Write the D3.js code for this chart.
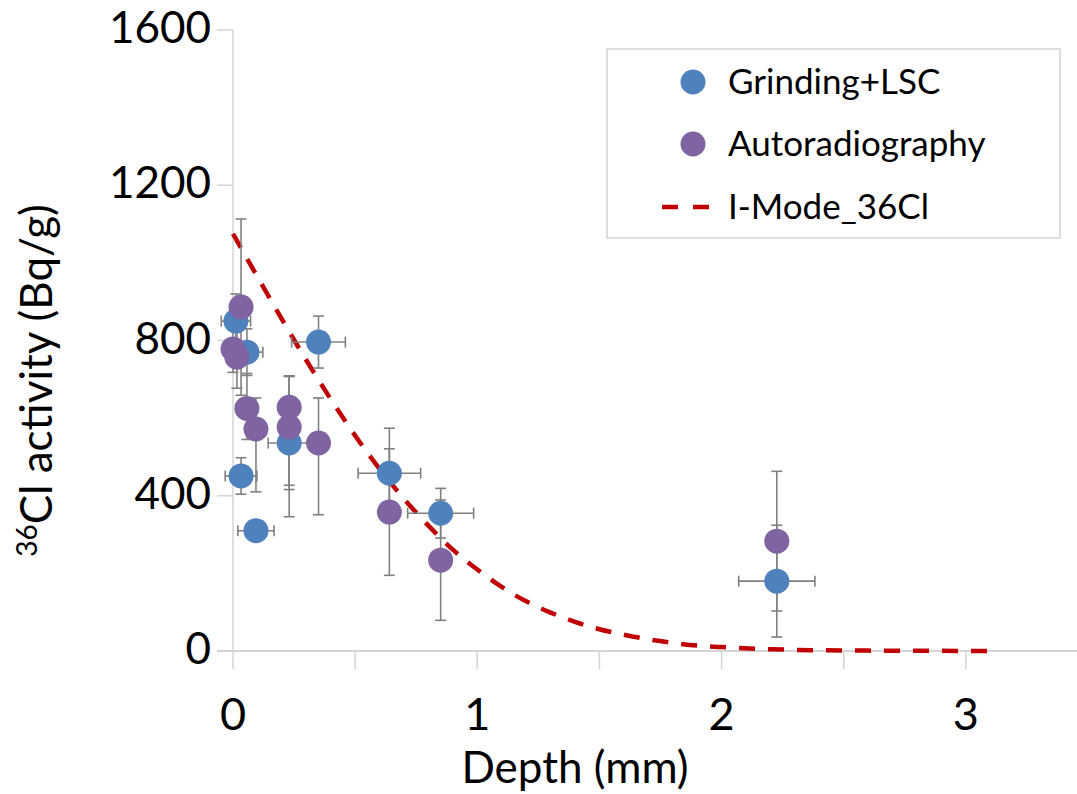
<!DOCTYPE html>
<html>
<head>
<meta charset="utf-8">
<script src="https://cdn.jsdelivr.net/npm/d3@7"></script>
<style>
  html, body { margin: 0; padding: 0; background: #fff; }
  svg { display: block; font-family: "Lato", "Open Sans", sans-serif; }
</style>
</head>
<body>
<svg id="chart" width="1077" height="794"></svg>
<script>
// ---- Data ----
const xTicks = [0, 1, 2, 3];
const xMinorTicks = [0, 0.5, 1, 1.5, 2, 2.5, 3];
const yTicks = [0, 400, 800, 1200, 1600];

// Grinding+LSC
const lscDepth   = [0.012, 0.057, 0.35, 0.033, 0.094, 0.23, 0.64, 0.85, 2.226];
const lscAct     = [850, 770, 796, 451, 310, 536, 458, 355, 180];
const lscErrPlus = [70, 60, 67, 47, 20, 173, 116, 64, 144];
const lscErrMinus= [70, 60, 67, 47, 20, 190, 116, 64, 144];
const lscDepthErr= [0.06, 0.065, 0.11, 0.065, 0.074, 0.086, 0.128, 0.135, 0.156];

// Autoradiography
const autoDepth   = [0.033, 0.0, 0.016, 0.057, 0.094, 0.23, 0.23, 0.35, 0.64, 0.85, 2.226];
const autoAct     = [886, 778, 757, 625, 572, 628, 577, 536, 358, 234, 283];
const autoErrPlus = [227, 60, 80, 90, 80, 80, 130, 116, 163, 155, 180];
const autoErrMinus= [227, 60, 80, 80, 162, 212, 150, 185, 163, 155, 180];

// I-Mode_36Cl model curve
const modelDepth = [0, 0.1, 0.2, 0.3, 0.4, 0.5, 0.6, 0.7, 0.8, 0.9, 1.0, 1.1, 1.2, 1.3, 1.4, 1.5, 1.6, 1.7, 1.8, 1.9, 2.0, 2.2, 2.4, 2.6, 2.8, 3.0, 3.1];
const modelAct   = [1075, 964, 855, 749, 649, 555, 469, 392, 323, 261, 210, 165, 128, 99, 75, 56, 42, 30, 21, 14, 10, 4.5, 2, 1, 0.5, 0.2, 0];

const legendLabels = ["Grinding+LSC", "Autoradiography", "I-Mode_36Cl"];

// ---- Styles ----
const BLUE = "#4f81bd", PURPLE = "#8064a2", RED = "#c00000", ERR = "#808080", AXIS = "#d4d4d4";
const R = 12.5, CAP = 5.5;

const svg = d3.select("#chart");
const x = d3.scaleLinear().domain([0, 3.5]).range([233, 233 + 3.5 * 244.3]);
const y = d3.scaleLinear().domain([0, 1600]).range([651, 30]);

// ---- Axes ----
const gx = svg.append("g").attr("transform", `translate(0,${y(0)})`);
gx.append("line").attr("x1", 217).attr("x2", 1077).attr("y1", 0).attr("y2", 0)
  .attr("stroke", AXIS).attr("stroke-width", 2);
gx.selectAll("line.tick").data(xMinorTicks).join("line").attr("class", "tick")
  .attr("x1", d => x(d)).attr("x2", d => x(d)).attr("y1", 0).attr("y2", 18)
  .attr("stroke", AXIS).attr("stroke-width", 1.5);
gx.selectAll("text").data(xTicks).join("text")
  .attr("x", d => x(d)).attr("y", 79)
  .attr("text-anchor", "middle").attr("font-size", 45).attr("fill", "#000")
  .text(d => d3.format("d")(d));

const gy = svg.append("g").attr("transform", `translate(${x(0)},0)`);
gy.append("line").attr("x1", 0).attr("x2", 0).attr("y1", y(1600)).attr("y2", y(0))
  .attr("stroke", AXIS).attr("stroke-width", 1.5);
gy.selectAll("line.tick").data(yTicks).join("line").attr("class", "tick")
  .attr("x1", -16).attr("x2", 0).attr("y1", d => y(d)).attr("y2", d => y(d))
  .attr("stroke", AXIS).attr("stroke-width", 1.5);
gy.selectAll("text").data(yTicks).join("text")
  .attr("x", -22).attr("y", d => y(d) + 13)
  .attr("text-anchor", "end").attr("font-size", 44).attr("fill", "#000")
  .text(d => d3.format("d")(d));

// Axis titles
svg.append("text").attr("x", 575).attr("y", 783)
  .attr("text-anchor", "middle").attr("font-size", 44).attr("fill", "#000")
  .text("Depth (mm)");

const yt = svg.append("text")
  .attr("transform", `translate(52,${(y(0) + y(1600)) / 2 + 40}) rotate(-90)`)
  .attr("text-anchor", "middle").attr("font-size", 44).attr("fill", "#000");
yt.append("tspan").attr("font-size", 28).attr("dy", -15).text("36");
yt.append("tspan").attr("dy", 15).text("Cl activity (Bq/g)");

// ---- Model curve ----
const line = d3.line().x((d, i) => x(modelDepth[i])).y((d, i) => y(modelAct[i])).curve(d3.curveMonotoneX);
svg.append("path").datum(modelAct).attr("d", line)
  .attr("fill", "none").attr("stroke", RED).attr("stroke-width", 4.5)
  .attr("stroke-dasharray", "16,13");

// ---- Error bars ----
const eb = svg.append("g").attr("stroke", ERR).attr("stroke-width", 1.6).attr("fill", "none");
function vErr(xs, ys, plus, minus) {
  xs.forEach((xv, i) => {
    const cx = x(xv), top = y(ys[i] + plus[i]), bot = y(ys[i] - minus[i]);
    eb.append("line").attr("x1", cx).attr("x2", cx).attr("y1", top).attr("y2", bot);
    eb.append("line").attr("x1", cx - CAP).attr("x2", cx + CAP).attr("y1", top).attr("y2", top);
    eb.append("line").attr("x1", cx - CAP).attr("x2", cx + CAP).attr("y1", bot).attr("y2", bot);
  });
}
function hErr(xs, ys, err) {
  xs.forEach((xv, i) => {
    const cy = y(ys[i]), l = x(xv - err[i]), r = x(xv + err[i]);
    eb.append("line").attr("x1", l).attr("x2", r).attr("y1", cy).attr("y2", cy);
    eb.append("line").attr("x1", l).attr("x2", l).attr("y1", cy - CAP).attr("y2", cy + CAP);
    eb.append("line").attr("x1", r).attr("x2", r).attr("y1", cy - CAP).attr("y2", cy + CAP);
  });
}
vErr(lscDepth, lscAct, lscErrPlus, lscErrMinus);
hErr(lscDepth, lscAct, lscDepthErr);
vErr(autoDepth, autoAct, autoErrPlus, autoErrMinus);

// ---- Points ----
svg.append("g").selectAll("circle").data(lscAct).join("circle")
  .attr("cx", (d, i) => x(lscDepth[i])).attr("cy", d => y(d)).attr("r", R).attr("fill", BLUE);
svg.append("g").selectAll("circle").data(autoAct).join("circle")
  .attr("cx", (d, i) => x(autoDepth[i])).attr("cy", d => y(d)).attr("r", R).attr("fill", PURPLE);

// ---- Legend ----
const lg = svg.append("g");
lg.append("rect").attr("x", 607).attr("y", 49).attr("width", 453).attr("height", 189)
  .attr("fill", "#fff").attr("stroke", "#c8c8c8").attr("stroke-width", 1.2);
const rows = [82, 144, 207];
lg.append("circle").attr("cx", 693).attr("cy", rows[0]).attr("r", R).attr("fill", BLUE);
lg.append("circle").attr("cx", 693).attr("cy", rows[1]).attr("r", R).attr("fill", PURPLE);
lg.append("line").attr("x1", 662).attr("x2", 709).attr("y1", rows[2]).attr("y2", rows[2])
  .attr("stroke", RED).attr("stroke-width", 4.5).attr("stroke-dasharray", "16,15");
lg.selectAll("text").data(legendLabels).join("text")
  .attr("x", 728).attr("y", (d, i) => rows[i] + 12)
  .attr("font-size", 35).attr("fill", "#000").text(d => d);
</script>
</body>
</html>
